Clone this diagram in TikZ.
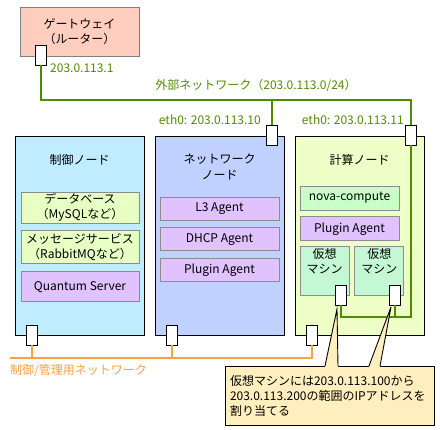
\documentclass[tikz,border=0pt]{standalone}
\usepackage{fontspec}
\setmainfont{Noto Sans CJK JP}
\usepackage{tikz}
\usetikzlibrary{positioning,calc}
\definecolor{gwcolor}{RGB}{255,206,190}
\definecolor{ctrlcolor}{RGB}{192,236,255}
\definecolor{netcolor}{RGB}{192,208,255}
\definecolor{compcolor}{RGB}{238,255,200}
\definecolor{limecolor}{RGB}{232,255,196}
\definecolor{agentcolor}{RGB}{224,194,255}
\definecolor{novacolor}{RGB}{200,255,200}
\definecolor{vmcolor}{RGB}{196,248,212}
\definecolor{notecolor}{RGB}{255,238,190}
\definecolor{extcolor}{RGB}{80,140,0}
\definecolor{mgmtcolor}{RGB}{255,160,64}
\begin{document}
\begin{tikzpicture}[
  x=1pt,y=-1pt,
  every node/.style={font=\fontsize{12}{15.5}\selectfont},
  hostbox/.style={draw=black,line width=0.9pt,minimum width=129pt,minimum height=199pt,inner sep=0pt},
  gwbox/.style={draw=black!50,fill=gwcolor,line width=0.9pt,minimum width=119pt,minimum height=49pt,
                align=center,inner sep=0pt},
  svcbox/.style={draw=black!45,line width=0.9pt,align=center,inner sep=0pt,minimum width=118pt},
  vmbox/.style={draw=black!45,fill=vmcolor,line width=0.9pt,align=center,inner sep=0pt,
                minimum width=49pt,minimum height=49pt},
  port/.style={draw=black,fill=white,line width=0.9pt,minimum width=11pt,minimum height=20pt,inner sep=0pt},
  title/.style={align=center,inner sep=0pt},
  extnet/.style={extcolor,line width=2pt},
  mgmtnet/.style={mgmtcolor,line width=2pt},
  extlabel/.style={text=extcolor,inner sep=0pt},
  note/.style={draw=black,fill=notecolor,line width=0.9pt,text width=199pt,align=left,
               inner xsep=5pt,minimum width=209pt,minimum height=59pt,font=\fontsize{12}{15}\selectfont}]
\useasboundingbox (0,0) rectangle (440,430);
%--- Gateway ---
\node[gwbox] (gw) at (79.5,31.5) {ゲートウェイ\\（ルーター）};
%--- Hosts ---
\node[hostbox,fill=ctrlcolor] (ctrl) at (79.5,235.5) {};
\node[hostbox,fill=netcolor]  (net)  at (219.5,235.5) {};
\node[hostbox,fill=compcolor] (comp) at (359.5,235.5) {};
\node[title] (ctrlt) at (79.5,160) {制御ノード};
\node[title] (nett)  at (219.5,167) {ネットワーク\\ノード};
\node[title] (compt) at (359.5,160) {計算ノード};
%--- Control node services ---
\node[svcbox,fill=limecolor,minimum height=31pt] (db) at (80,207.5) {データベース\\（MySQLなど）};
\node[svcbox,fill=limecolor,minimum height=33pt,below=7pt of db] (mq) {メッセージサービス\\（RabbitMQなど）};
\node[svcbox,fill=agentcolor,minimum height=30pt,below=7pt of mq] (qs) {Quantum Server};
%--- Network node agents ---
\node[svcbox,fill=agentcolor,minimum width=119pt,minimum height=23pt] (l3) at (219.5,208.5) {L3 Agent};
\node[svcbox,fill=agentcolor,minimum width=119pt,minimum height=23pt,below=7pt of l3] (dhcp) {DHCP Agent};
\node[svcbox,fill=agentcolor,minimum width=119pt,minimum height=23pt,below=7pt of dhcp] (plugn) {Plugin Agent};
%--- Compute node ---
\node[svcbox,fill=novacolor,minimum width=99pt,minimum height=24pt] (nova) at (349.5,198) {nova-compute};
\node[svcbox,fill=agentcolor,minimum width=99pt,minimum height=24pt,below=6pt of nova] (plugc) {Plugin Agent};
\node[vmbox] (vm1) at (324.5,270.5) {仮想\\マシン\\[4pt]};
\node[vmbox,right=5pt of vm1] (vm2) {仮想\\マシン\\[4pt]};
%--- Ports ---
\node[port] (gwport)  at (40.5,55)   {};
\node[port] (nport)   at (271.5,135) {};
\node[port] (cport)   at (410.5,135) {};
\node[port] (vm1port) at (340.5,295) {};
\node[port] (vm2port) at (394.5,295) {};
\node[port] (ctport)  at (31.5,335)  {};
\node[port] (nmport)  at (171.5,335) {};
\node[port] (cmport)  at (311.5,335) {};
%--- External network ---
\coordinate (extbus) at (410.5,100);
\coordinate (vmbus)  at (340.5,317);
\draw[extnet] (gwport.south) |- (extbus) -- (cport.north);
\draw[extnet] (nport.north) -- (nport.north |- extbus);
\draw[extnet] (cport.south) |- (vmbus) -- (vm1port.south);
\draw[extnet] (vm2port.south) -- (vm2port.south |- vmbus);
\node[extlabel,anchor=west] (gwip) at (50,68) {203.0.113.1};
\node[extlabel] (extname) at (256,85) {外部ネットワーク（203.0.113.0/24）};
\node[extlabel,anchor=east] (nip) at (261,120) {eth0: 203.0.113.10};
\node[extlabel,anchor=east] (cip) at (404,120) {eth0: 203.0.113.11};
%--- Management network ---
\coordinate (mgmtbus) at (10,358);
\draw[mgmtnet] (mgmtbus) -- (mgmtbus -| cmport.south) -- (cmport.south);
\draw[mgmtnet] (ctport.south) -- (ctport.south |- mgmtbus);
\draw[mgmtnet] (nmport.south) -- (nmport.south |- mgmtbus);
\node[text=mgmtcolor,inner sep=0pt,anchor=west] (mgmtname) at (10,371) {制御/管理用ネットワーク};
%--- Note ---
\node[note] (ipnote) at (329.5,395.5) {仮想マシンには203.0.113.100から\\203.0.113.200の範囲のIPアドレスを\\割り当てる};
\coordinate (tip1) at (337,309);
\coordinate (tip2) at (391,307);
\fill[notecolor] (325,367) -- (tip1) -- (338,367) -- cycle;
\fill[notecolor] (369,367) -- (tip2) -- (380,367) -- cycle;
\draw[line width=0.9pt] (325,366) -- (tip1) -- (338,366);
\draw[line width=0.9pt] (369,366) -- (tip2) -- (380,366);
\end{tikzpicture}
\end{document}
